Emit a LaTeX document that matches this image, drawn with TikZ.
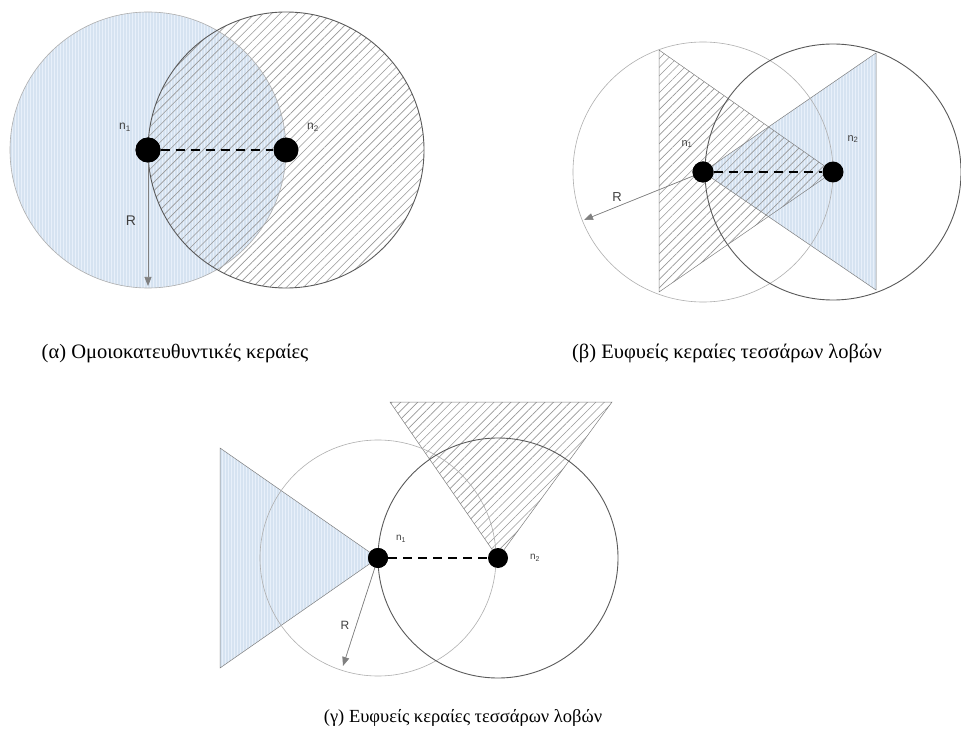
\documentclass[tikz,border=0pt]{standalone}
\usepackage{fontspec}
\setmainfont{Liberation Serif}
\newfontfamily\lab{Liberation Sans}
\usetikzlibrary{patterns.meta,arrows.meta}
\definecolor{bfill}{RGB}{214,227,241}
\definecolor{bline}{RGB}{232,240,250}
\definecolor{hatch}{RGB}{152,152,152}
\definecolor{lgray}{RGB}{175,175,175}
\definecolor{dgray}{RGB}{90,90,90}
\tikzset{
 bluearea/.style={fill=bfill},
 vlines/.style={pattern={Lines[angle=90,distance=3pt,line width=0.8pt]},pattern color=bline},
 hatcharea/.style={pattern={Lines[angle=45,distance=6pt,line width=0.65pt]},pattern color=hatch},
 thinc/.style={draw=lgray,line width=0.6pt},
 thickc/.style={draw=dgray,line width=0.9pt},
 tri/.style={draw=gray,line width=0.5pt},
 dotnode/.style={circle,fill=black,inner sep=0pt,minimum size=#1},
 link/.style={line width=2.4pt,dash pattern=on 9pt off 6pt},
 rarrow/.style={draw=gray,line width=0.7pt,-{Triangle[length=9pt,width=7pt]},fill=gray},
 nlab/.style={font=\lab\fontsize{#1}{#1}\selectfont,text=black!75,inner sep=0pt},
 captext/.style={font=\fontsize{#1}{24}\selectfont,inner sep=0pt},
}
\begin{document}
\begin{tikzpicture}[x=1pt,y=-1pt]
\useasboundingbox[fill=white] (0,0) rectangle (961,735);

% ---------- (a) ----------
\fill[bluearea] (148,150) circle (138);
\fill[vlines] (148,150) circle (138);
\fill[hatcharea] (286,150) circle (138);
\draw[thinc] (148,150) circle (138);
\draw[thickc] (286,150) circle (138);
\coordinate (aR) at (148,286);
\node[dotnode=25pt] (a1) at (148,150) {};
\node[dotnode=25pt] (a2) at (286,150) {};
\draw[rarrow] (a1.center) -- (aR);
\node[dotnode=25pt] at (a1) {};
\draw[link] (a1) -- (a2);
\node[nlab=12] (a1l) at (125,127) {n\textsubscript{1}};
\node[nlab=12] (a2l) at (313,127) {n\textsubscript{2}};
\node[nlab=14] (aRl) at (131,221) {R};
\node[captext=20.5] (capa) at (175,353) {(α) Ομοιοκατευθυντικές κεραίες};

% ---------- (b) ----------
\fill[bluearea] (876,53) -- (703,172) -- (876,290) -- cycle;
\fill[vlines] (876,53) -- (703,172) -- (876,290) -- cycle;
\fill[hatcharea] (659,50) -- (833,172) -- (659,292) -- cycle;
\draw[tri] (876,53) -- (703,172) -- (876,290) -- cycle;
\draw[tri] (659,50) -- (833,172) -- (659,292) -- cycle;
\draw[thinc] (703,172) circle (130);
\draw[thickc] (833,172) circle (128);
\coordinate (bR) at (584,220);
\node[dotnode=21pt] (b1) at (703,172) {};
\node[dotnode=21pt] (b2) at (833,172) {};
\draw[rarrow] (b1.center) -- (bR);
\node[dotnode=21pt] at (b1) {};
\draw[link] (b1) -- (b2);
\node[nlab=11] (b1l) at (687,144) {n\textsubscript{1}};
\node[nlab=11] (b2l) at (853,139) {n\textsubscript{2}};
\node[nlab=13] (bRl) at (617,197) {R};
\node[captext=20.5] (capb) at (727,353) {(β) Ευφυείς κεραίες τεσσάρων λοβών};

% ---------- (c) ----------
\fill[bluearea] (220,448) -- (378,558) -- (220,668) -- cycle;
\fill[vlines] (220,448) -- (378,558) -- (220,668) -- cycle;
\fill[hatcharea] (390,402) -- (612,402) -- (498,558) -- cycle;
\draw[tri] (220,448) -- (378,558) -- (220,668) -- cycle;
\draw[tri] (390,402) -- (612,402) -- (498,558) -- cycle;
\draw[thinc] (378,558) circle (118);
\draw[thickc] (498,558) circle (120);
\coordinate (cR) at (343,666);
\node[dotnode=20pt] (c1) at (378,558) {};
\node[dotnode=20pt] (c2) at (498,558) {};
\draw[rarrow] (c1.center) -- (cR);
\node[dotnode=20pt] at (c1) {};
\draw[link] (c1) -- (c2);
\node[nlab=10] (c1l) at (401,539) {n\textsubscript{1}};
\node[nlab=10] (c2l) at (535,558) {n\textsubscript{2}};
\node[nlab=12] (cRl) at (345,625) {R};
\node[captext=18.5] (capc) at (463,718) {(γ) Ευφυείς κεραίες τεσσάρων λοβών};
\end{tikzpicture}
\end{document}
